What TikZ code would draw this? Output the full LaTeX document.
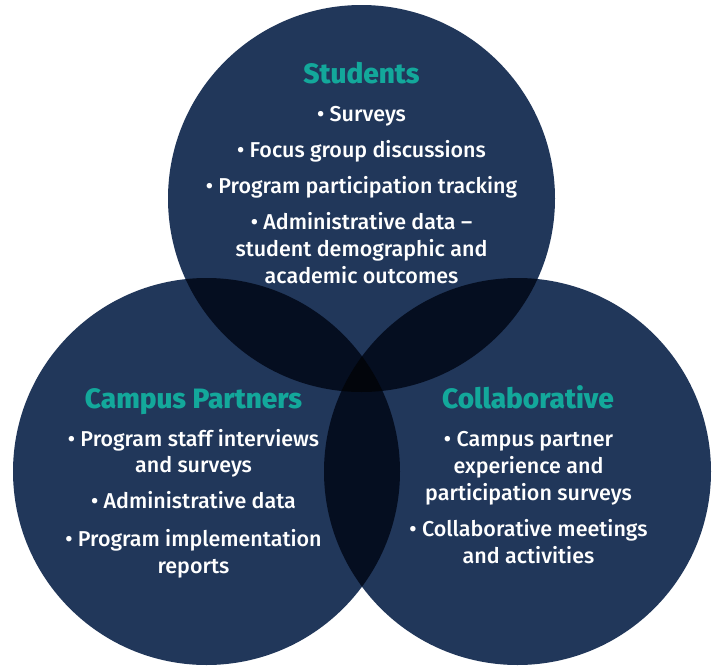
\documentclass[tikz,border=0pt]{standalone}
\usepackage{fontspec}
\setmainfont{Fira Sans}
\newfontfamily\itemfont{Fira Sans Medium}
\newfontfamily\titlefont{Fira Sans ExtraBold}
\definecolor{navy}{HTML}{21375A}
\definecolor{navyii}{HTML}{050E20}
\definecolor{navyiii}{HTML}{02050B}
\definecolor{teal}{HTML}{13A89B}
\tikzset{
  title/.style={text=teal, font=\titlefont\fontsize{28}{32}\selectfont, anchor=base, inner sep=0pt},
  item/.style={text=white, font=\itemfont\fontsize{21.5}{26.7}\selectfont, align=center, anchor=base, inner sep=0pt},
}
\begin{document}
\begin{tikzpicture}[x=1pt, y=-1pt]
	\useasboundingbox (0, 0) rectangle (718, 667);
	%%circle centres
	\coordinate (stu) at (361.5, 198.5);
	\coordinate (cam) at (206.5, 471.5);
	\coordinate (col) at (517.5, 471.5);
	\def\rad{193.5}

	%%draw the circles
	\fill[navy] (stu) circle (\rad);
	\fill[navy] (cam) circle (\rad);
	\fill[navy] (col) circle (\rad);

	%%draw the overlaps
	\begin{scope}
		\clip (stu) circle (\rad);
		\fill[navyii] (cam) circle (\rad);
		\fill[navyii] (col) circle (\rad);
	\end{scope}
	\begin{scope}
		\clip (cam) circle (\rad);
		\fill[navyii] (col) circle (\rad);
	\end{scope}
	\begin{scope}
		\clip (stu) circle (\rad);
		\clip (cam) circle (\rad);
		\fill[navyiii] (col) circle (\rad);
	\end{scope}

	%%students (a node's base is its last line)
	\node[title] (stuT) at (361.5, 83) {Students};
		\node[item] (stuA) at (361.5, 121) {• Surveys};
		\node[item] (stuB) at (361.5, 157) {• Focus group discussions};
		\node[item] (stuC) at (361.5, 193) {• Program participation tracking};
		\node[item] (stuD) at (361.5, 283) {• Administrative data –\\student demographic and\\academic outcomes};

	%%campus partners
	\node[title] (camT) at (193.5, 408) {Campus Partners};
		\node[item] (camA) at (193.5, 472.7) {• Program staff interviews\\and surveys};
		\node[item] (camB) at (193.5, 508) {• Administrative data};
		\node[item] (camC) at (193.5, 573) {• Program implementation\\reports};

	%%collaborative
	\node[title] (colT) at (528, 408) {Collaborative};
		\node[item] (colA) at (528.5, 500) {• Campus partner\\experience and\\participation surveys};
		\node[item] (colB) at (528.5, 563.3) {• Collaborative meetings\\and activities};
\end{tikzpicture}
\end{document}
